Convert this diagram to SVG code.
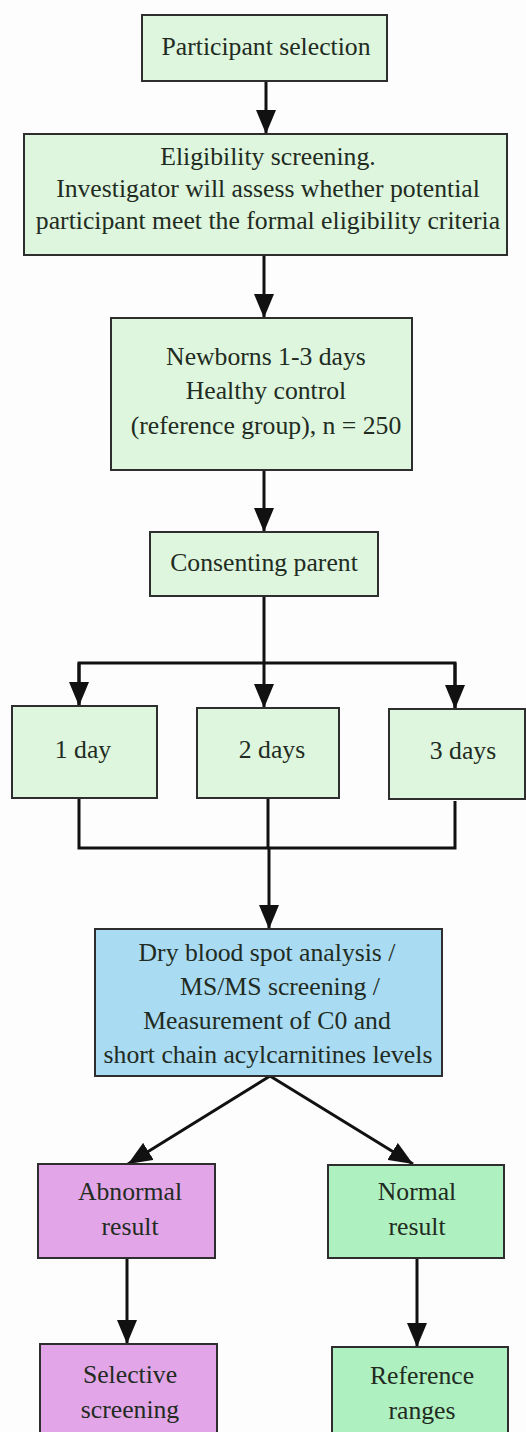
<svg xmlns="http://www.w3.org/2000/svg" width="526" height="1432" viewBox="0 0 526 1432">
<style>
.bg{fill:#fdfdfd}
.box{stroke:#2e2e2e;stroke-width:2}
.g1{fill:#ddf6dd}
.g2{fill:#aff0c0}
.bl{fill:#a9dbf2}
.pk{fill:#e2a6e8}
.t{font-family:"Liberation Serif","DejaVu Serif",serif;font-size:25.7px;fill:#222b22;text-anchor:middle}
.c{fill:none;stroke:#111;stroke-width:3}
</style>
<defs>
<marker id="ah" viewBox="0 0 24 20" refX="24" refY="10" markerWidth="24" markerHeight="20" markerUnits="userSpaceOnUse" orient="auto">
<path d="M0,0 L24,10 L0,20 z" fill="#111"/>
</marker>
</defs>
<rect class="bg" x="0" y="0" width="526" height="1432"/>
<g id="connectors">
<line class="c" x1="266" y1="81" x2="266" y2="134" marker-end="url(#ah)"/>
<line class="c" x1="264" y1="255" x2="264" y2="318" marker-end="url(#ah)"/>
<line class="c" x1="264" y1="470" x2="264" y2="532" marker-end="url(#ah)"/>
<line class="c" x1="264" y1="596" x2="264" y2="663"/>
<polyline class="c" points="79,706 79,663 455,663 455,709"/>
<line class="c" x1="79" y1="663" x2="79" y2="706" marker-end="url(#ah)"/>
<line class="c" x1="264" y1="663" x2="264" y2="708" marker-end="url(#ah)"/>
<line class="c" x1="455" y1="663" x2="455" y2="709" marker-end="url(#ah)"/>
<polyline class="c" points="79,798 79,848 455,848 455,801"/>
<line class="c" x1="268" y1="798" x2="268" y2="848"/>
<line class="c" x1="269" y1="848" x2="269" y2="929" marker-end="url(#ah)"/>
<line class="c" x1="270" y1="1076" x2="128" y2="1164" marker-end="url(#ah)"/>
<line class="c" x1="270" y1="1076" x2="413" y2="1164" marker-end="url(#ah)"/>
<line class="c" x1="127" y1="1258" x2="127" y2="1344" marker-end="url(#ah)"/>
<line class="c" x1="417" y1="1258" x2="417" y2="1347" marker-end="url(#ah)"/>
</g>
<g id="n1"><rect class="box g1" x="142" y="15" width="245" height="66"/><text class="t" x="266" y="55">Participant selection</text></g>
<g id="n2"><rect class="box g1" x="24" y="134" width="483" height="121"/>
<text class="t" x="268" y="165">Eligibility screening.</text>
<text class="t" x="268" y="197">Investigator will assess whether potential</text>
<text class="t" x="268" y="229">participant meet the formal eligibility criteria</text></g>
<g id="n3"><rect class="box g1" x="111" y="318" width="301" height="152"/>
<text class="t" x="266" y="365">Newborns 1-3 days</text>
<text class="t" x="266" y="399">Healthy control</text>
<text class="t" x="266" y="434">(reference group), n = 250</text></g>
<g id="n4"><rect class="box g1" x="150" y="532" width="228" height="64"/><text class="t" x="264" y="571">Consenting parent</text></g>
<g id="n5"><rect class="box g1" x="12" y="706" width="145" height="92"/><text class="t" x="83" y="758">1 day</text></g>
<g id="n6"><rect class="box g1" x="197" y="708" width="142" height="90"/><text class="t" x="272" y="758">2 days</text></g>
<g id="n7"><rect class="box g1" x="389" y="709" width="136" height="90"/><text class="t" x="463" y="759">3 days</text></g>
<g id="n8"><rect class="box bl" x="95" y="929" width="347" height="147"/>
<text class="t" x="267" y="961">Dry blood spot analysis /</text>
<text class="t" x="280" y="995">MS/MS screening /</text>
<text class="t" x="267" y="1029">Measurement of C0 and</text>
<text class="t" x="268" y="1063">short chain acylcarnitines levels</text></g>
<g id="n9"><rect class="box pk" x="38" y="1164" width="177" height="94"/>
<text class="t" x="130" y="1200">Abnormal</text><text class="t" x="130" y="1235">result</text></g>
<g id="n10"><rect class="box g2" x="328" y="1165" width="176" height="93"/>
<text class="t" x="417" y="1200">Normal</text><text class="t" x="417" y="1235">result</text></g>
<g id="n11"><rect class="box pk" x="40" y="1344" width="177" height="100"/>
<text class="t" x="130" y="1383">Selective</text><text class="t" x="130" y="1418">screening</text></g>
<g id="n12"><rect class="box g2" x="332" y="1347" width="176" height="100"/>
<text class="t" x="422" y="1384">Reference</text><text class="t" x="422" y="1419">ranges</text></g>
</svg>
